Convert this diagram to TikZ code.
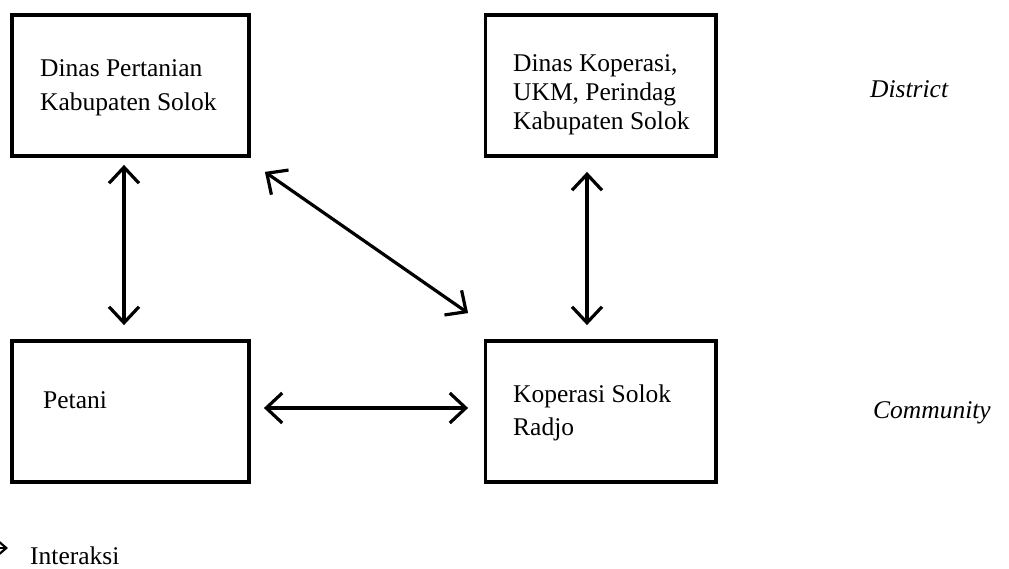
\documentclass[tikz,border=0pt]{standalone}
\usepackage{fontspec}
\setmainfont{Liberation Serif}
\usetikzlibrary{arrows.meta}
\begin{document}
\begin{tikzpicture}[x=1pt,y=-1pt,
  box/.style={draw=black, line width=3.8pt, rectangle, inner sep=0pt, minimum height=141pt},
  lbl/.style={anchor=base west, inner sep=0pt, align=left},
  arr/.style={line width=3.2pt, {Straight Barb[length=16pt,width=30pt]}-{Straight Barb[length=16pt,width=30pt]}},
  small/.style={line width=2.2pt, -{Straight Barb[length=7pt,width=12pt]}}
]
\useasboundingbox (0,0) rectangle (1009,568);
\clip (0,0) rectangle (1009,568);
\fill[white] (0,0) rectangle (1009,568);

% boxes
\node[box, minimum width=237pt] (b1) at (130.5,85.5) {};
\node[box, minimum width=230.5pt] (b2) at (600.75,85.5) {};
\node[box, minimum width=237pt] (b3) at (130.5,411.5) {};
\node[box, minimum width=230.5pt] (b4) at (600.75,411.5) {};

% texts (anchor = baseline of the last line)
\node[lbl, font=\fontsize{25.5}{34}\selectfont] (t1) at (40,110) {Dinas Pertanian\\Kabupaten Solok};
\node[lbl, font=\fontsize{25.5}{29}\selectfont] (t2) at (513,129) {Dinas Koperasi,\\UKM, Perindag\\Kabupaten Solok};
\node[lbl, font=\fontsize{25.5}{30}\selectfont] (t3) at (43,408) {Petani};
\node[lbl, font=\fontsize{25.5}{32.5}\selectfont] (t4) at (513,435) {Koperasi Solok\\Radjo};
\node[lbl, font=\fontsize{25.5}{30}\selectfont\itshape] (district) at (870,97) {District};
\node[lbl, font=\fontsize{25.5}{30}\selectfont\itshape] (community) at (873,418) {Community};
\node[lbl, font=\fontsize{25.5}{30}\selectfont] (legend) at (30,564) {Interaksi};

% connectors
\draw[arr] ([shift={(-6.5,7)}]b1.south) -- ([shift={(-6.5,-14)}]b3.north);
\draw[arr] ([shift={(-13.75,14)}]b2.south) -- ([shift={(-13.75,-14)}]b4.north);
\draw[arr] ([shift={(14,14)}]b1.south east) -- ([shift={(-15.5,-26)}]b4.north west);
\draw[arr] ([shift={(13,-3.5)}]b3.east) -- ([shift={(-15.5,-3.5)}]b4.west);

% legend arrow
\coordinate (lgA) at (-20,548);
\coordinate (lgB) at (8,548);
\draw[small] (lgA) -- (lgB);
\end{tikzpicture}
\end{document}
